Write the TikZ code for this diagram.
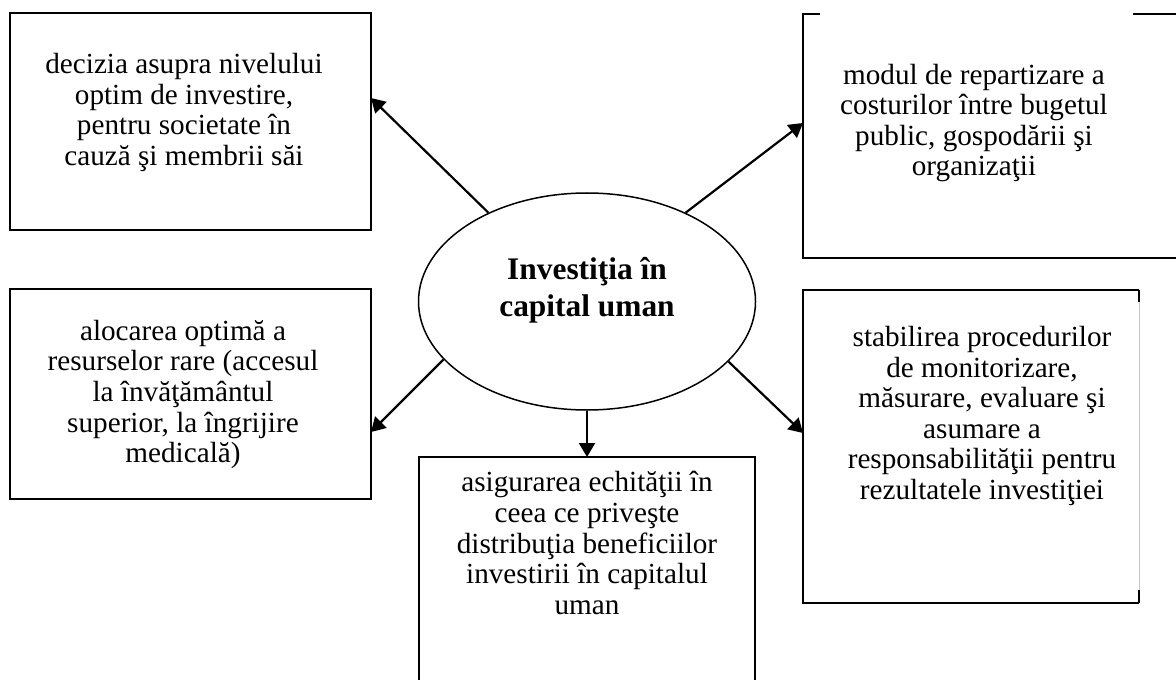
\documentclass[tikz,border=0pt]{standalone}
\usepackage{fontspec}
\setmainfont{Liberation Serif}
\usetikzlibrary{shapes.geometric,arrows.meta,calc}

\begin{document}
\begin{tikzpicture}[x=0.5pt,y=-0.5pt,
        box/.style={draw,line width=1pt,inner sep=0pt,outer sep=0pt},
        frame/.style={line width=1pt},
        txt/.style={align=center,inner sep=0pt,font=\fontsize{14.6pt}{15.3pt}\selectfont},
        arr/.style={-{Triangle[length=7pt,width=8pt]},line width=1.1pt}]
        \useasboundingbox (0,0) rectangle (1176,679);

        % centre
        \node[ellipse,draw,line width=.75pt,inner sep=0pt,minimum width=168.5pt,minimum height=108.5pt] (inv) at (587,301.5) {};
        \node[align=center,inner sep=0pt,font=\fontsize{15.7pt}{18.3pt}\selectfont\bfseries] (invt) at (587,290) {Investiţia în\\capital uman};

        % boxes
        \node[box,minimum width=180.5pt,minimum height=108.5pt] (b1) at (190.5,121.5) {};
        \node[txt] (t1) at (184,112.5) {decizia asupra nivelului\\optim de investire,\\pentru societate în\\cauză şi membrii săi};

        \node[inner sep=0pt,outer sep=0pt,minimum width=193.5pt,minimum height=122pt] (b2) at (996.5,136) {};
        \draw[frame] ($(b2.north west)+(17,0)$) -- (b2.north west) -- (b2.south west) -- (b2.south east);
        \draw[frame] ($(b2.north east)+(-57,0)$) -- (b2.north east);
        \node[txt] (t2) at (974,123) {modul de repartizare a\\costurilor între bugetul\\public, gospodării şi\\organizaţii};

        \node[box,minimum width=180.5pt,minimum height=105pt] (b3) at (190.5,394) {};
        \node[txt] (t3) at (183,394.5) {alocarea optimă a\\resurselor rare (accesul\\la învăţământul\\superior, la îngrijire\\medicală)};

        \node[box,minimum width=168pt,minimum height=121.5pt] (b4) at (587,578.5) {};
        \node[txt] (t4) at (587,543) {asigurarea echităţii în\\ceea ce priveşte\\distribuţia beneficiilor\\investirii în capitalul\\uman};

        \node[inner sep=0pt,outer sep=0pt,minimum width=168pt,minimum height=156.5pt] (b5) at (971,446.5) {};
        \draw[frame] (b5.north east) -- (b5.north west) -- (b5.south west) -- (b5.south east);
        \draw[gray!45,line width=.5pt] (b5.north east) -- (b5.south east);
        \draw[frame] (b5.north east) -- ++(0,12);
        \draw[frame] (b5.south east) -- ++(0,-13);
        \node[txt] (t5) at (982,416) {stabilirea procedurilor\\de monitorizare,\\măsurare, evaluare şi\\asumare a\\responsabilităţii pentru\\rezultatele investiţiei};

        % arrows
        \draw[arr] (inv.138.3) -- ($(b1.east)+(0,-23.5)$);
        \draw[arr] (inv.42) -- ($(b2.west)+(0,-13)$);
        \draw[arr] (inv.202.8) -- ($(b3.east)+(0,38)$);
        \draw[arr] (inv.south) -- (b4.north);
        \draw[arr] (inv.337.4) -- ($(b5.west)+(0,-13.5)$);
\end{tikzpicture}
\end{document}
